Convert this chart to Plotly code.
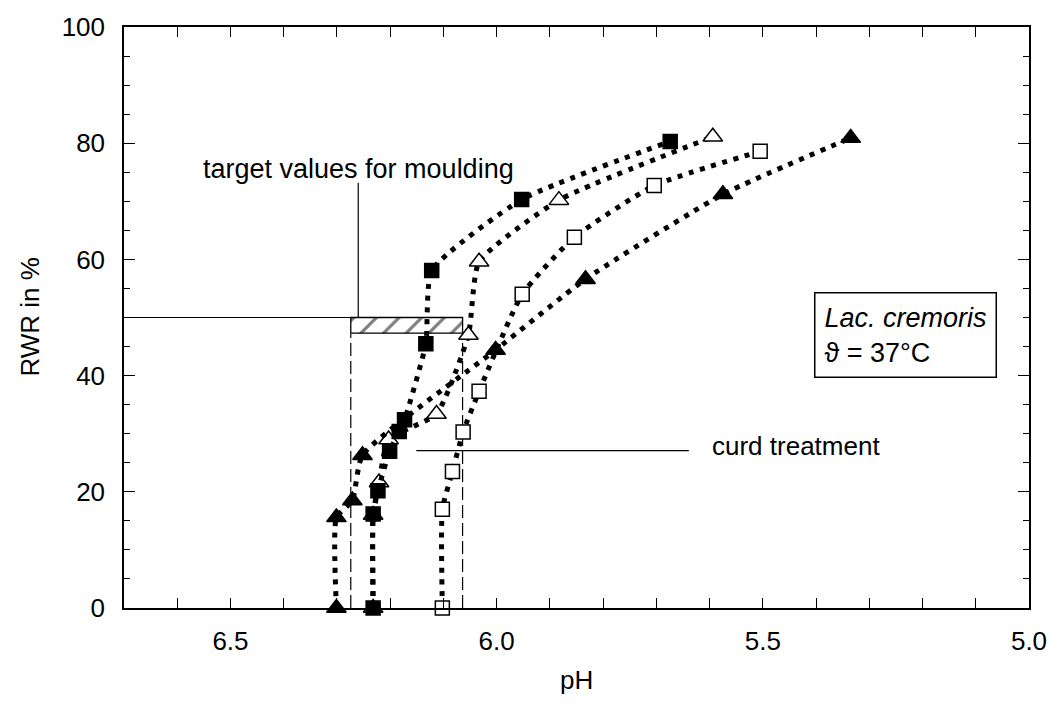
import plotly.graph_objects as go

# ---- data (pH, RWR in %) ----
sq_fill_ph = [6.232, 6.232, 6.223, 6.201, 6.183, 6.173, 6.133, 6.122, 5.953, 5.674]
sq_fill_rwr = [0, 16.2, 20.2, 27.0, 30.4, 32.4, 45.5, 58.1, 70.3, 80.3]

tri_open_ph = [6.232, 6.232, 6.221, 6.203, 6.113, 6.053, 6.033, 5.883, 5.594]
tri_open_rwr = [0, 16.0, 21.6, 29.0, 33.4, 47.0, 59.6, 70.2, 81.1]

sq_open_ph = [6.102, 6.102, 6.083, 6.063, 6.033, 5.952, 5.854, 5.704, 5.505]
sq_open_rwr = [0, 17.0, 23.5, 30.3, 37.3, 54.0, 63.8, 72.7, 78.6]

tri_fill_ph = [6.301, 6.301, 6.271, 6.252, 6.002, 5.833, 5.575, 5.335]
tri_fill_rwr = [0, 15.6, 18.5, 26.3, 44.4, 56.6, 71.2, 80.9]

# target window (hatched box)
box_ph = [6.274, 6.064]
box_rwr = [47.3, 50.0]
target_line_ph = 6.26
target_text_rwr = 75.6
target_line_top = 73.2
curd_line_ph = [6.151, 5.639]
curd_rwr = 27.1
curd_text_ph = 5.60
info_ph, info_rwr = 5.232, 47.0

FONT = "Arial, 'Liberation Sans', sans-serif"
DOT = "5px,6.7px"
FS = 26

fig = go.Figure()

# hatched box
fig.add_trace(go.Scatter(
    x=[box_ph[0], box_ph[1], box_ph[1], box_ph[0], box_ph[0]],
    y=[box_rwr[0], box_rwr[0], box_rwr[1], box_rwr[1], box_rwr[0]],
    mode="lines", fill="toself", fillcolor="white",
    fillpattern=dict(shape="/", fgcolor="black", bgcolor="white", size=16, solidity=0.2),
    line=dict(color="black", width=1.3), hoverinfo="skip", showlegend=False))

def series(xs, ys, symbol, fill, size):
    fig.add_trace(go.Scatter(
        x=xs, y=ys, mode="lines+markers", cliponaxis=False, showlegend=False,
        line=dict(color="black", width=5, dash=DOT, shape="spline", smoothing=0.5),
        marker=dict(symbol=symbol, size=size, color=fill,
                    line=dict(color="black", width=1.5))))

series(tri_open_ph, tri_open_rwr, "triangle-up", "white", 17)
series(sq_fill_ph, sq_fill_rwr, "square", "black", 14)
series(sq_open_ph, sq_open_rwr, "square", "white", 14)
series(tri_fill_ph, tri_fill_rwr, "triangle-up", "black", 17)

shapes = [
    dict(type="line", xref="x", yref="y", x0=6.7, x1=box_ph[0], y0=box_rwr[1], y1=box_rwr[1],
         line=dict(color="black", width=1.2), layer="below"),
    dict(type="line", xref="x", yref="y", x0=target_line_ph, x1=target_line_ph,
         y0=box_rwr[1], y1=target_line_top, line=dict(color="black", width=1.2), layer="below"),
    dict(type="line", xref="x", yref="y", x0=box_ph[0], x1=box_ph[0], y0=0, y1=box_rwr[0],
         line=dict(color="black", width=1.2, dash="13px,5px"), layer="below"),
    dict(type="line", xref="x", yref="y", x0=box_ph[1], x1=box_ph[1], y0=0, y1=box_rwr[0],
         line=dict(color="black", width=1.2, dash="13px,5px"), layer="below"),
    dict(type="line", xref="x", yref="y", x0=curd_line_ph[0], x1=curd_line_ph[1], y0=curd_rwr, y1=curd_rwr,
         line=dict(color="black", width=1.2), layer="below"),
]

annotations = [
    dict(x=target_line_ph, y=target_text_rwr, xref="x", yref="y", text="target values for moulding",
         showarrow=False, xanchor="center", yanchor="middle", font=dict(size=27, color="black", family=FONT)),
    dict(x=curd_text_ph, y=curd_rwr + 0.7, xref="x", yref="y", text="curd treatment",
         showarrow=False, xanchor="left", yanchor="middle", font=dict(size=FS, color="black", family=FONT)),
    dict(x=info_ph, y=info_rwr, xref="x", yref="y", text="<i>Lac. cremoris</i><br>\u03d1 = 37\u00b0C",
         showarrow=False, xanchor="center", yanchor="middle", align="left",
         bordercolor="black", borderwidth=1.5, borderpad=9, bgcolor="white",
         font=dict(size=27, color="black", family=FONT)),
    dict(x=0, y=0.5, xref="paper", yref="paper", text="RWR in %", textangle=-90, showarrow=False,
         xanchor="center", yanchor="middle", xshift=-95, font=dict(size=FS, color="black", family=FONT)),
    dict(x=0.5, y=0, xref="paper", yref="paper", text="pH", showarrow=False,
         xanchor="center", yanchor="middle", yshift=-72, font=dict(size=FS, color="black", family=FONT)),
]

fig.update_layout(
    width=1059, height=708, autosize=False,
    margin=dict(l=124, r=17, t=23, b=100),
    plot_bgcolor="white", paper_bgcolor="white",
    font=dict(family=FONT, size=FS, color="black"),
    shapes=shapes, annotations=annotations,
    xaxis=dict(range=[6.7, 5.0], tick0=5.0, dtick=0.5, tickformat=".1f", ticks="inside",
               ticklen=10, tickwidth=1.2, tickcolor="black", showline=True, linecolor="black",
               linewidth=1.5, mirror="ticks", showgrid=False, zeroline=False,
               ticklabelstandoff=9, ticklabeloverflow="allow",
               minor=dict(dtick=0.1, tick0=5.0, ticks="inside", ticklen=10, tickwidth=1.2,
                          tickcolor="black", showgrid=False)),
    yaxis=dict(range=[0, 100], dtick=20, ticks="inside", ticklen=11, tickwidth=1.2,
               tickcolor="black", showline=True, linecolor="black", linewidth=1.5,
               mirror="ticks", showgrid=False, zeroline=False, ticklabelstandoff=12,
               minor=dict(dtick=5, ticks="inside", ticklen=6, tickwidth=1.2,
                          tickcolor="black", showgrid=False)),
)

fig.write_html("out.html")
